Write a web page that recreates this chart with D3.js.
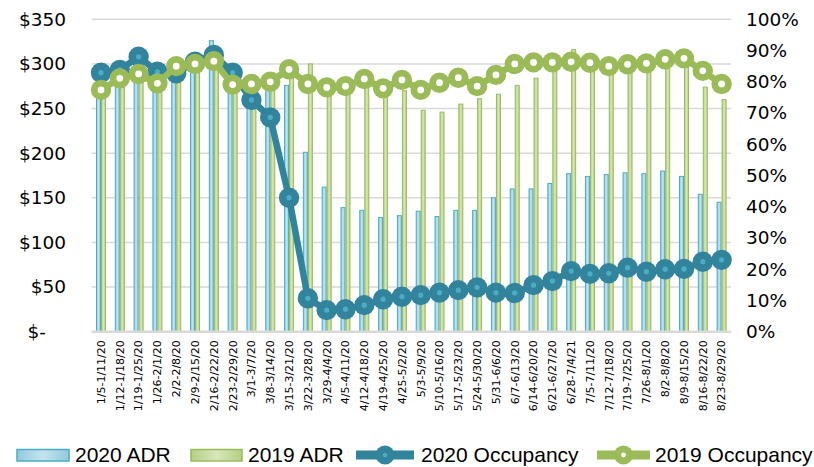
<!DOCTYPE html>
<html>
<head>
<meta charset="utf-8">
<script src="https://cdn.jsdelivr.net/npm/d3@7"></script>
<style>
  body { margin: 0; background: #fff; }
  svg { display: block; }
</style>
</head>
<body>
<div id="chart"></div>
<script>
var categories = ["1/5-1/11/20", "1/12-1/18/20", "1/19-1/25/20", "1/26-2/1/20", "2/2-2/8/20", "2/9-2/15/20",
  "2/16-2/22/20", "2/23-2/29/20", "3/1-3/7/20", "3/8-3/14/20", "3/15-3/21/20", "3/22-3/28/20",
  "3/29-4/4/20", "4/5-4/11/20", "4/12-4/18/20", "4/19-4/25/20", "4/25-5/2/20", "5/3-5/9/20",
  "5/10-5/16/20", "5/17-5/23/20", "5/24-5/30/20", "5/31-6/6/20", "6/7-6/13/20", "6/14-6/20/20",
  "6/21-6/27/20", "6/28-7/4/21", "7/5-7/11/20", "7/12-7/18/20", "7/19-7/25/20", "7/26-8/1/20",
  "8/2-8/8/20", "8/9-8/15/20", "8/16-8/22/20", "8/23-8/29/20"];

var adr2020 = [285, 285, 300, 283, 290, 300, 326, 285, 280, 275, 276, 201, 162, 139, 136, 128, 130,
  135, 129, 136, 136, 150, 160, 160, 166, 177, 174, 176, 178, 177, 180, 174, 154, 145];
var adr2019 = [265, 280, 285, 275, 290, 295, 300, 275, 275, 280, 295, 300, 275, 272, 280, 268, 270,
  248, 246, 255, 261, 266, 276, 284, 298, 316, 300, 295, 298, 298, 302, 303, 274, 260];
var occ2020 = [82.9, 83.8, 88.0, 83.2, 82.7, 86.4, 88.6, 82.9, 74.2, 68.6, 42.9, 10.7, 6.9, 7.2, 8.5,
  10.4, 11.2, 11.7, 12.5, 13.3, 14.2, 12.5, 12.4, 14.9, 16.2, 19.4, 18.5, 18.7, 20.5, 19.2, 20.0, 20.1, 22.4, 23.0];
var occ2019 = [77.4, 81.1, 82.5, 79.5, 85.0, 85.7, 86.6, 79.1, 79.3, 80.0, 84.0, 79.3, 78.2, 78.6, 80.9,
  77.9, 80.6, 77.4, 79.7, 81.3, 78.6, 82.2, 85.7, 86.2, 86.2, 86.4, 86.1, 85.0, 85.6, 85.9, 87.2, 87.5, 83.5, 79.3];

var adrTicks = [0, 50, 100, 150, 200, 250, 300, 350];
var occTicks = [0, 10, 20, 30, 40, 50, 60, 70, 80, 90, 100];

var width = 814, height = 467;
var plot = { left: 91.6, right: 731, top: 19.3, bottom: 331.7 };

var svg = d3.select("#chart").append("svg")
  .attr("width", width)
  .attr("height", height);

svg.append("rect").attr("width", width).attr("height", height).attr("fill", "#fff");

var x0 = d3.scaleBand().domain(categories).range([plot.left, plot.right]).padding(0);
var x1 = d3.scaleBand().domain(["2020", "2019"]).range([0, x0.bandwidth()]).paddingOuter(0.88);
var yL = d3.scaleLinear().domain([0, 350]).range([plot.bottom, plot.top]);
var yR = d3.scaleLinear().domain([0, 100]).range([plot.bottom, plot.top]);

// gridlines
svg.append("g")
  .selectAll("line")
  .data(adrTicks.slice(1))
  .enter().append("line")
  .attr("x1", plot.left).attr("x2", plot.right)
  .attr("y1", d => yL(d)).attr("y2", d => yL(d))
  .attr("stroke", "#d9d9d9").attr("stroke-width", 1.5);

// bars
var defs = svg.append("defs");
function grad(id, c1, c2) {
  var g = defs.append("linearGradient").attr("id", id).attr("x1", "0").attr("x2", "1").attr("y1", "0").attr("y2", "0");
  g.append("stop").attr("offset", "0%").attr("stop-color", c1);
  g.append("stop").attr("offset", "50%").attr("stop-color", c2);
  g.append("stop").attr("offset", "100%").attr("stop-color", c1);
}
grad("gBlue", "#93cadd", "#c4e3ee");
grad("gGreen", "#b6cf86", "#d6e6bb");

var barSeries = [
  { key: "2020", values: adr2020, fill: "url(#gBlue)", stroke: "#4bacc6" },
  { key: "2019", values: adr2019, fill: "url(#gGreen)", stroke: "#9bbb59" }
];

barSeries.forEach(s => {
  svg.append("g")
    .selectAll("rect")
    .data(s.values)
    .enter().append("rect")
    .attr("x", (d, i) => x0(categories[i]) + x1(s.key) + 0.5)
    .attr("width", x1.bandwidth() - 1)
    .attr("y", d => yL(d))
    .attr("height", d => plot.bottom - yL(d))
    .attr("fill", s.fill)
    .attr("stroke", s.stroke)
    .attr("stroke-width", 1);
});

// bottom axis line
svg.append("line")
  .attr("x1", plot.left).attr("x2", plot.right)
  .attr("y1", plot.bottom).attr("y2", plot.bottom)
  .attr("stroke", "#d9d9d9").attr("stroke-width", 2.5);

// occupancy lines
var cx = i => x0(categories[i]) + x0.bandwidth() / 2;
var line = d3.line().x((d, i) => cx(i)).y(d => yR(d));

var lineSeries = [
  { values: occ2020, color: "#31849b", dot: "#4bacc6", dotR: 2.6 },
  { values: occ2019, color: "#9bbb59", dot: "#ffffff", dotR: 3.4 }
];

lineSeries.forEach(s => {
  var g = svg.append("g");
  g.append("path")
    .datum(s.values)
    .attr("d", line)
    .attr("fill", "none")
    .attr("stroke", s.color)
    .attr("stroke-width", 6.5)
    .attr("stroke-linejoin", "round");
  g.selectAll("circle.outer")
    .data(s.values)
    .enter().append("circle")
    .attr("class", "outer")
    .attr("cx", (d, i) => cx(i)).attr("cy", d => yR(d))
    .attr("r", 10.2)
    .attr("fill", s.color);
  g.selectAll("circle.inner")
    .data(s.values)
    .enter().append("circle")
    .attr("class", "inner")
    .attr("cx", (d, i) => cx(i)).attr("cy", d => yR(d))
    .attr("r", s.dotR)
    .attr("fill", s.dot);
});

// axes
var axisFont = "DejaVu Sans, sans-serif";

var leftAxis = svg.append("g")
  .attr("transform", "translate(" + plot.left + ",0)")
  .call(d3.axisLeft(yL).tickValues(adrTicks).tickSize(0).tickPadding(25.6)
    .tickFormat(d => d === 0 ? "$-" : "$" + d));
leftAxis.select(".domain").remove();
leftAxis.selectAll("text")
  .style("font-family", axisFont).style("font-size", "18.5px").attr("fill", "#000")
  .filter(d => d === 0).attr("dx", "-20");

var rightAxis = svg.append("g")
  .attr("transform", "translate(" + plot.right + ",0)")
  .call(d3.axisRight(yR).tickValues(occTicks).tickSize(0).tickPadding(15)
    .tickFormat(d => d + "%"));
rightAxis.select(".domain").remove();
rightAxis.selectAll("text")
  .style("font-family", axisFont).style("font-size", "18.5px").attr("fill", "#000");

var bottomAxis = svg.append("g")
  .attr("transform", "translate(0," + plot.bottom + ")")
  .call(d3.axisBottom(x0).tickSize(0));
bottomAxis.select(".domain").remove();
bottomAxis.selectAll("text")
  .style("font-family", axisFont).style("font-size", "11px").attr("fill", "#000")
  .attr("text-anchor", "end")
  .attr("transform", "rotate(-90)")
  .attr("x", -8.5).attr("y", 0).attr("dy", "0.35em");

// legend
var legFont = "Liberation Sans, Arial, sans-serif";
var leg = svg.append("g");
var legendItems = [
  { label: "2020 ADR", type: "bar", x0: 17, x1: 69, tx: 75, fill: "url(#gBlue)", stroke: "#4bacc6" },
  { label: "2019 ADR", type: "bar", x0: 191, x1: 242, tx: 248, fill: "url(#gGreen)", stroke: "#9bbb59" },
  { label: "2020 Occupancy", type: "line", x0: 356, x1: 414, tx: 421, color: "#31849b", dot: "#4bacc6", dotR: 2.2 },
  { label: "2019 Occupancy", type: "line", x0: 597, x1: 650, tx: 655, color: "#9bbb59", dot: "#ffffff", dotR: 2.4 }
];
legendItems.forEach(it => {
  if (it.type === "bar") {
    leg.append("rect")
      .attr("x", it.x0).attr("y", 449.5).attr("width", it.x1 - it.x0).attr("height", 11.5)
      .attr("fill", it.fill).attr("stroke", it.stroke).attr("stroke-width", 1.5);
  } else {
    var mid = (it.x0 + it.x1) / 2;
    leg.append("line")
      .attr("x1", it.x0).attr("x2", it.x1).attr("y1", 455).attr("y2", 455)
      .attr("stroke", it.color).attr("stroke-width", 9);
    leg.append("circle").attr("cx", mid).attr("cy", 455).attr("r", 9.5).attr("fill", it.color);
    leg.append("circle").attr("cx", mid).attr("cy", 455).attr("r", it.dotR).attr("fill", it.dot);
  }
  leg.append("text")
    .attr("x", it.tx).attr("y", 462.3)
    .style("font-family", legFont).style("font-size", "21px").attr("fill", "#000")
    .text(it.label);
});
</script>
</body>
</html>
